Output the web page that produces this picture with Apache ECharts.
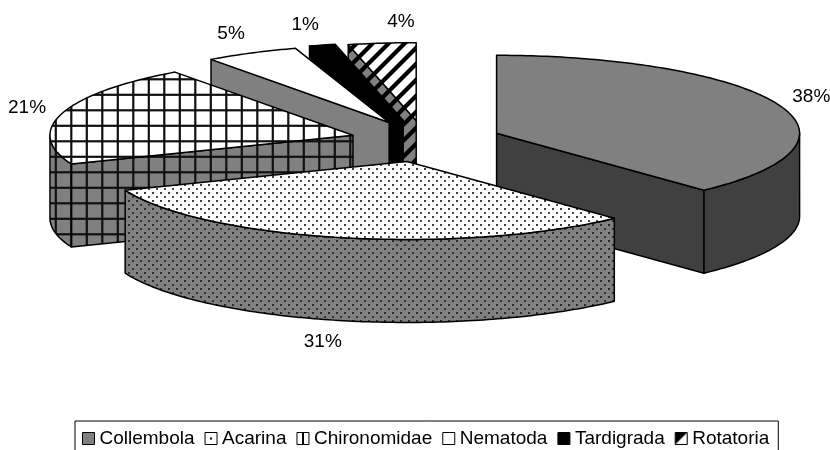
<!DOCTYPE html>
<html>
<head>
<meta charset="utf-8">
<style>
html, body { margin: 0; padding: 0; background: #fff; }
#chart { width: 830px; height: 450px; overflow: hidden; }
</style>
<script src="https://cdn.jsdelivr.net/npm/echarts@6/dist/echarts.min.js"></script>
</head>
<body>
<div id="chart"></div>
<script>
// 数据
const categories = ['Collembola', 'Acarina', 'Chironomidae', 'Nematoda', 'Tardigrada', 'Rotatoria'];
const shares = [38, 31, 21, 5, 1.4, 3.6];
const labels = ['38%', '31%', '21%', '5%', '1%', '4%'];

// 三维饼图的几何参数
const centerX = 425, centerY = 140.6;
const radiusX = 303, radiusY = 78, depth = 83;
const explode = [77, 83, 75, 79, 82, 78];
const labelOffset = [[33, -8], [-18, 21], [-35, -6], [-20.5, -19], [-17, -20], [19, -21]];
// 从后往前画
const drawOrder = [5, 4, 3, 2, 0, 1];
const FONT = '19px "Liberation Sans", Arial, sans-serif';

// 生成填充图案
function tile(w, h, bg, draw) {
    const c = document.createElement('canvas');
    c.width = w;
    c.height = h;
    const ctx = c.getContext('2d');
    ctx.fillStyle = bg;
    ctx.fillRect(0, 0, w, h);
    if (draw) draw(ctx);
    return { image: c, repeat: 'repeat' };
}

function drawDots(ctx) {
    ctx.fillStyle = '#222';
    [[1, 1], [5, 5]].forEach(p => {
        ctx.beginPath();
        ctx.arc(p[0], p[1], 1.1, 0, Math.PI * 2);
        ctx.fill();
    });
}

function drawGrid(ctx) {
    ctx.fillStyle = '#111';
    [9.3, 24.8].forEach(x => ctx.fillRect(x - 1.1, 0, 2.2, 31));
    [1.8, 17.3].forEach(y => ctx.fillRect(0, y - 1.1, 31, 2.2));
}

function drawStripes(ctx) {
    ctx.strokeStyle = '#000';
    ctx.lineWidth = 4.2;
    [-16, 0, 16].forEach(o => {
        ctx.beginPath();
        ctx.moveTo(o - 3, 19);
        ctx.lineTo(o + 19, -3);
        ctx.stroke();
    });
}

const GRAY = '#808080', DARK = '#404040';
const topFill = [GRAY, tile(8, 8, '#fff', drawDots), tile(31, 31, '#fff', drawGrid), '#fff', '#000', tile(16, 16, '#fff', drawStripes)];
const wallFill = [DARK, tile(8, 8, GRAY, drawDots), tile(31, 31, GRAY, drawGrid), GRAY, '#000', tile(16, 16, GRAY, drawStripes)];

// 图例小方块
const legendFill = [
    GRAY,
    tile(12, 12, '#fff', ctx => { ctx.fillStyle = '#000'; ctx.fillRect(5, 5, 2, 2); }),
    tile(12, 12, '#fff', ctx => { ctx.fillStyle = '#000'; ctx.fillRect(5, 0, 2, 12); }),
    '#fff',
    '#000',
    tile(12, 12, '#fff', ctx => {
        ctx.fillStyle = '#000';
        ctx.beginPath();
        ctx.moveTo(0, 0);
        ctx.lineTo(12, 0);
        ctx.lineTo(0, 12);
        ctx.fill();
    })
];

// 每一块的起止角度，顺时针，从正上方开始
const total = shares.reduce((a, b) => a + b, 0);
const angles = [];
let running = 0;
shares.forEach(v => {
    const start = running / total * Math.PI * 2;
    running += v;
    angles.push([start, running / total * Math.PI * 2]);
});

function renderSlice(i) {
    const start = angles[i][0], end = angles[i][1];
    const mid = (start + end) / 2;
    const ax = centerX + explode[i] * Math.sin(mid);
    const ay = centerY - explode[i] * Math.cos(mid) * radiusY / radiusX;
    const rim = t => [ax + radiusX * Math.sin(t), ay - radiusY * Math.cos(t)];
    const arc = (a, b) => {
        const pts = [];
        const n = Math.max(2, Math.ceil((b - a) * 60));
        for (let k = 0; k <= n; k++) pts.push(rim(a + (b - a) * k / n));
        return pts;
    };
    const down = p => [p[0], p[1] + depth];
    const style = fill => ({ fill: fill, stroke: '#000', lineWidth: 1.5, lineJoin: 'round' });
    const children = [];

    // 径向侧面
    const wall = t => {
        const p = rim(t);
        children.push({
            type: 'polygon',
            shape: { points: [[ax, ay], p, down(p), [ax, ay + depth]] },
            style: style(wallFill[i])
        });
    };
    if (Math.sin(start) < -1e-6) wall(start);
    if (Math.sin(end) > 1e-6) wall(end);

    // 外弧侧面，只有前半圈看得见
    const a0 = Math.max(start, Math.PI / 2), a1 = Math.min(end, Math.PI * 1.5);
    if (a1 > a0) {
        const edge = arc(a0, a1);
        children.push({
            type: 'polygon',
            shape: { points: edge.concat(edge.map(down).reverse()) },
            style: style(wallFill[i])
        });
    }

    // 顶面
    children.push({
        type: 'polygon',
        shape: { points: [[ax, ay]].concat(arc(start, end)) },
        style: style(topFill[i])
    });

    // 百分比标签
    const lp = rim(mid);
    const below = i === 1 ? depth : 0;
    children.push({
        type: 'text',
        style: {
            text: labels[i],
            x: lp[0] + labelOffset[i][0],
            y: lp[1] + below + labelOffset[i][1],
            fill: '#000',
            font: FONT,
            align: 'center',
            verticalAlign: 'middle'
        }
    });
    return { type: 'group', children: children };
}

const chart = echarts.init(document.getElementById('chart'), null, { renderer: 'canvas' });
chart.setOption({
    animation: false,
    backgroundColor: '#fff',
    legend: {
        left: 75,
        top: 421,
        orient: 'horizontal',
        padding: [8, 9, 11, 7],
        itemGap: 10,
        itemWidth: 12,
        itemHeight: 12,
        backgroundColor: '#fff',
        borderColor: '#000',
        borderWidth: 1,
        selectedMode: false,
        textStyle: { color: '#000', fontFamily: '"Liberation Sans", Arial, sans-serif', fontSize: 19 },
        data: categories.map((name, i) => ({
            name: name,
            icon: 'rect',
            itemStyle: { color: legendFill[i], borderColor: '#000', borderWidth: 1 }
        }))
    },
    series: drawOrder.map(i => ({
        type: 'custom',
        name: categories[i],
        coordinateSystem: 'none',
        silent: true,
        data: [shares[i]],
        renderItem: () => renderSlice(i)
    }))
});
</script>
</body>
</html>
